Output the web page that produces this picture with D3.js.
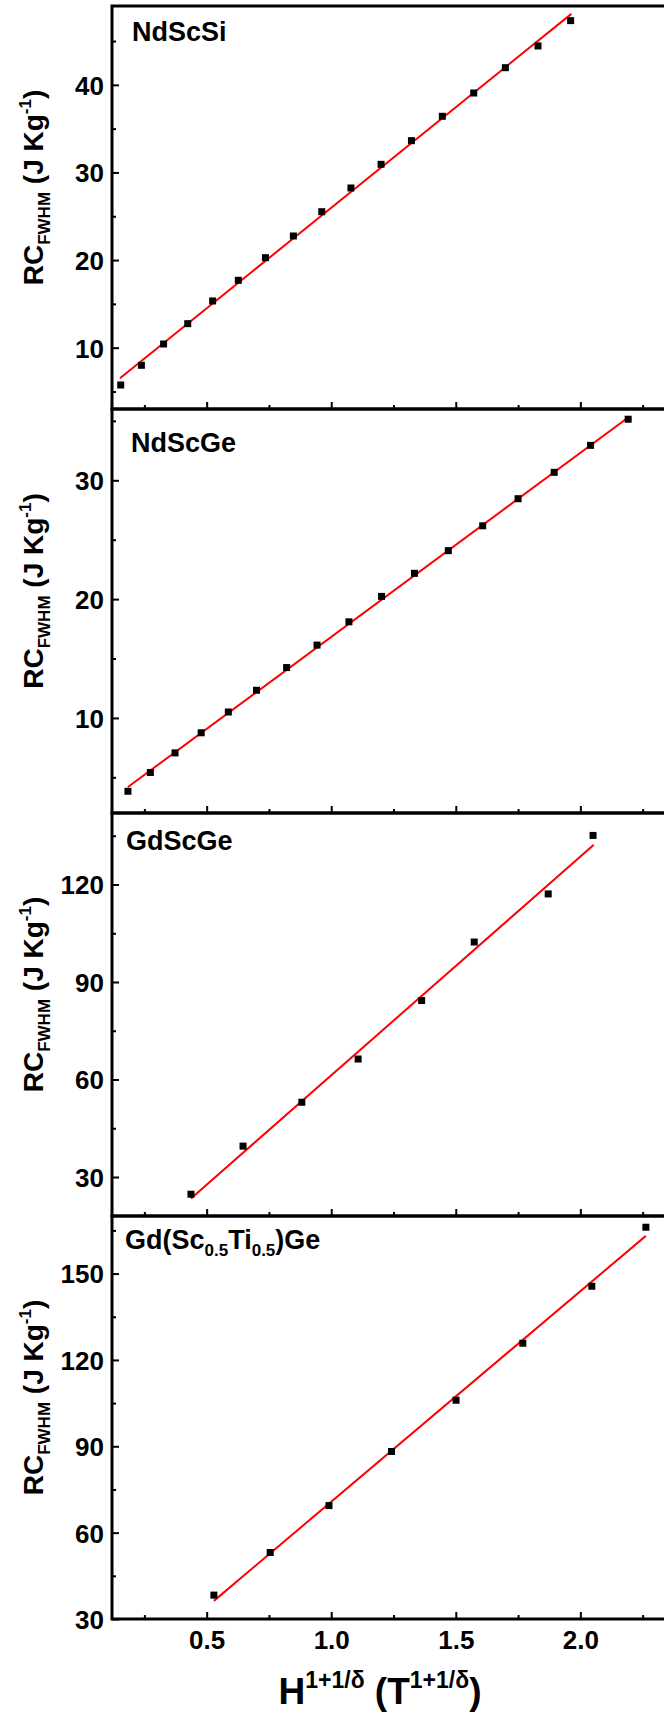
<html>
<head>
<script src="https://d3js.org/d3.v7.min.js"></script>
<style>
body { margin: 0; background: #fff; }
svg { font-family: Arial, "Liberation Sans", sans-serif; font-weight: bold; }
.tick line { stroke: #000; stroke-width: 2; }
.tick text { fill: #000; font-size: 26px; }
</style>
</head>
<body>
<div id="chart"></div>
<script>
// x axis ticks (shared by all panels)
var xTicks = [0.5, 1.0, 1.5, 2.0];
var xMinor = [0.25, 0.75, 1.25, 1.75, 2.25];

// NdScSi
var nsiX = [0.155, 0.238, 0.327, 0.424, 0.524, 0.627, 0.736, 0.848, 0.962, 1.079, 1.200, 1.322, 1.446, 1.572, 1.699, 1.830, 1.961];
var nsiY = [5.74, 7.99, 10.42, 12.74, 15.33, 17.69, 20.27, 22.75, 25.52, 28.23, 30.93, 33.63, 36.41, 39.07, 41.96, 44.44, 47.33];
var nsiFitX = [0.152, 1.964];
var nsiFitY = [6.5, 48.1];

// NdScGe
var ngeX = [0.184, 0.274, 0.373, 0.478, 0.587, 0.700, 0.821, 0.943, 1.071, 1.202, 1.334, 1.470, 1.608, 1.750, 1.895, 2.041, 2.192];
var ngeY = [3.83, 5.41, 7.06, 8.75, 10.50, 12.33, 14.24, 16.13, 18.09, 20.23, 22.17, 24.08, 26.17, 28.45, 30.67, 32.94, 35.14];
var ngeFitX = [0.184, 2.192];
var ngeFitY = [4.19, 35.28];

// GdScGe
var gsgX = [0.437, 0.646, 0.882, 1.108, 1.363, 1.574, 1.871, 2.051];
var gsgY = [24.7, 39.5, 53.0, 66.3, 84.3, 102.3, 117.1, 135.1];
var gsgFitX = [0.437, 2.054];
var gsgFitY = [23.4, 132.2];

// Gd(Sc0.5Ti0.5)Ge
var gstX = [0.529, 0.755, 0.991, 1.242, 1.501, 1.769, 2.046, 2.263];
var gstY = [38.3, 53.1, 69.4, 88.2, 106.0, 125.8, 145.6, 166.1];
var gstFitX = [0.529, 2.263];
var gstFitY = [36.3, 163.1];

var panels = [
  {label: [["NdScSi", 0]], x: nsiX, y: nsiY, fx: nsiFitX, fy: nsiFitY,
   yDomain: [3, 49], yTicks: [10, 20, 30, 40], yMinor: [5, 15, 25, 35, 45]},
  {label: [["NdScGe", 0]], x: ngeX, y: ngeY, fx: ngeFitX, fy: ngeFitY,
   yDomain: [2, 36], yTicks: [10, 20, 30], yMinor: [5, 15, 25, 35]},
  {label: [["GdScGe", 0]], x: gsgX, y: gsgY, fx: gsgFitX, fy: gsgFitY,
   yDomain: [18, 142], yTicks: [30, 60, 90, 120], yMinor: [45, 75, 105, 135]},
  {label: [["Gd(Sc", 0], ["0.5", 1], ["Ti", 0], ["0.5", 1], [")Ge", 0]], x: gstX, y: gstY, fx: gstFitX, fy: gstFitY,
   yDomain: [30, 170], yTicks: [30, 60, 90, 120, 150], yMinor: [45, 75, 105, 135, 165]}
];

/* layout */
var width = 664, height = 1717;
var left = 112, right = 680;
var tops = [6, 409, 813, 1216, 1619];
var labelX = [132, 131, 126, 125];
var labelDy = [35, 43, 37, 33];
var markerSize = 7;

var svg = d3.select("#chart").append("svg")
  .attr("width", width)
  .attr("height", height);

svg.append("rect").attr("width", width).attr("height", height).attr("fill", "#fff");

var xScale = d3.scaleLinear().domain([0.12, 2.40]).range([left, right]);

// tspans with relative baseline shifts
function rich(text, parts) {
  var shift = 0;
  parts.forEach(function(p) {
    text.append("tspan")
      .attr("font-size", p[1] + "px")
      .attr("dy", p[2] - shift)
      .text(p[0]);
    shift = p[2];
  });
}

panels.forEach(function(p, i) {
  var y0 = tops[i], y1 = tops[i + 1];
  var yScale = d3.scaleLinear().domain(p.yDomain).range([y1, y0]);
  var g = svg.append("g");

  // fit line
  var line = d3.line().x(d => xScale(d[0])).y(d => yScale(d[1]));
  g.append("path")
    .attr("d", line(d3.zip(p.fx, p.fy)))
    .attr("fill", "none")
    .attr("stroke", "#ff0000")
    .attr("stroke-width", 2);

  // points
  g.selectAll(".pt")
    .data(d3.zip(p.x, p.y)).enter()
    .append("rect")
    .attr("class", "pt")
    .attr("x", d => xScale(d[0]) - markerSize / 2)
    .attr("y", d => yScale(d[1]) - markerSize / 2)
    .attr("width", markerSize)
    .attr("height", markerSize)
    .attr("fill", "#000");

  // y axis
  var ya = g.append("g").attr("transform", `translate(${left},0)`)
    .call(d3.axisLeft(yScale).tickValues(p.yTicks).tickSize(-7).tickPadding(8).tickFormat(d3.format("d")));
  ya.select(".domain").remove();
  ya.selectAll("text").attr("dy", "0.36em");

  var ym = g.append("g").attr("transform", `translate(${left},0)`)
    .call(d3.axisLeft(yScale).tickValues(p.yMinor).tickSize(-4).tickFormat(""));
  ym.select(".domain").remove();

  // x axis
  var xa = g.append("g").attr("transform", `translate(0,${y1})`)
    .call(d3.axisBottom(xScale).tickValues(xTicks).tickSize(-7).tickPadding(12)
      .tickFormat(i === panels.length - 1 ? d3.format(".1f") : ""));
  xa.select(".domain").remove();

  var xm = g.append("g").attr("transform", `translate(0,${y1})`)
    .call(d3.axisBottom(xScale).tickValues(xMinor).tickSize(-4).tickFormat(""));
  xm.select(".domain").remove();

  // frame
  g.append("rect")
    .attr("x", left).attr("y", y0)
    .attr("width", right - left).attr("height", y1 - y0)
    .attr("fill", "none").attr("stroke", "#000").attr("stroke-width", 3);

  // panel label
  var lab = g.append("text")
    .attr("x", labelX[i]).attr("y", y0 + labelDy[i])
    .attr("fill", "#000");
  rich(lab, p.label.map(d => d[1] ? [d[0], 17, 7] : [d[0], 27, 0]));

  // y title
  var cy = (y0 + y1) / 2 - 20;
  var yt = g.append("text")
    .attr("transform", `translate(43,${cy}) rotate(-90)`)
    .attr("text-anchor", "middle")
    .attr("fill", "#000");
  rich(yt, [["RC", 28, 0], ["FWHM", 17, 7], [" (J Kg", 28, 0], ["-1", 17, -12], [")", 28, 0]]);
});

// x title
var xt = svg.append("text")
  .attr("x", 380).attr("y", 1704)
  .attr("text-anchor", "middle")
  .attr("fill", "#000");
rich(xt, [["H", 37, 0], ["1+1/\u03b4", 23, -16], [" (T", 37, 0], ["1+1/\u03b4", 23, -16], [")", 37, 0]]);
</script>
</body>
</html>
